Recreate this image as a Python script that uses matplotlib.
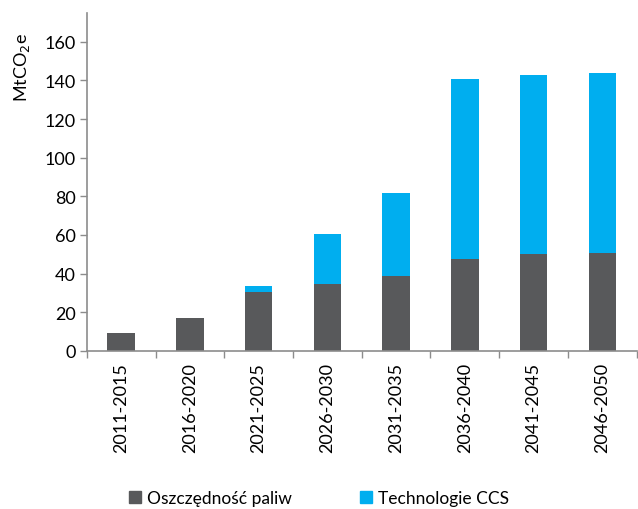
import matplotlib
matplotlib.use("Agg")
import matplotlib.pyplot as plt
from matplotlib.patches import Patch
import numpy as np

plt.rcParams['font.family'] = ['Lato', 'DejaVu Sans']

categories = ["2011-2015", "2016-2020", "2021-2025", "2026-2030",
              "2031-2035", "2036-2040", "2041-2045", "2046-2050"]
oszczednosc = [9.3, 17.1, 30.5, 34.7, 39.0, 47.8, 50.3, 50.9]
ccs = [0.0, 0.0, 3.2, 25.9, 42.9, 93.0, 92.7, 93.1]
yticks = [0, 20, 40, 60, 80, 100, 120, 140, 160]

dark = "#58595b"
blue = "#00aeef"
grey = "#8c8c8c"

fig = plt.figure(figsize=(6.38, 5.10), dpi=100)
ax = fig.add_axes([0.136, 0.31, 0.862, 0.663])

x = np.arange(len(categories))
ax.bar(x, oszczednosc, width=0.4, color=dark, edgecolor="none")
ax.bar(x, ccs, width=0.4, bottom=oszczednosc, color=blue, edgecolor="none")

ax.set_xlim(-0.5, len(categories) - 0.5)
ax.set_ylim(0, 175)
ax.set_yticks(yticks)
ax.set_yticklabels([str(v) for v in yticks], fontsize=13)

ax.set_xticks(x)
ax.set_xticklabels(categories, rotation=90, fontsize=13)
ax.tick_params(axis='x', length=0, pad=8)
ax.set_xticks(np.arange(-0.5, len(categories), 1.0), minor=True)
ax.tick_params(axis='x', which='minor', length=5, color=grey, width=1)
ax.tick_params(axis='y', length=5, color=grey, width=1, pad=3)

for s in ["top", "right"]:
    ax.spines[s].set_visible(False)
for s in ["left", "bottom"]:
    ax.spines[s].set_color(grey)
    ax.spines[s].set_linewidth(1.2)

ax.set_ylabel("MtCO$_2$e", fontsize=13)
ax.yaxis.set_label_coords(-0.1, 0.84)

handles = [Patch(color=dark, label="Oszczędność paliw"),
           Patch(color=blue, label="Technologie CCS")]
fig.legend(handles=handles, loc="lower center", bbox_to_anchor=(0.5, -0.025),
           ncol=2, frameon=False, fontsize=12.5, handlelength=0.7,
           handleheight=0.7, columnspacing=3.9, handletextpad=0.35)

fig.savefig("out.png", dpi=100)
